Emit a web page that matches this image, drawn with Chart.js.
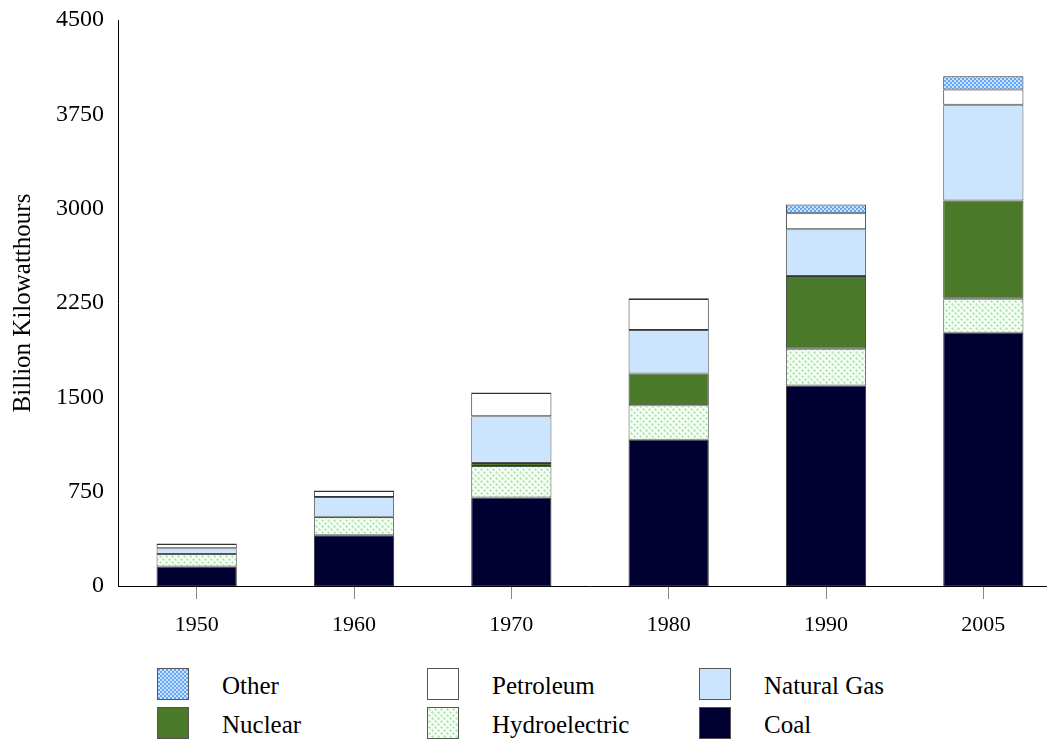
<!DOCTYPE html>
<html>
<head>
<meta charset="utf-8">
<script src="https://cdn.jsdelivr.net/npm/chart.js@4/dist/chart.umd.min.js"></script>
<style>
  html, body { margin: 0; padding: 0; background: #fff; overflow: hidden; }
  #wrap { position: relative; width: 1047px; height: 740px; overflow: hidden; }
  #box { position: absolute; left: 0; top: 0; width: 1062px; height: 650px; }
  .leg { position: absolute; font-family: "Liberation Serif", serif; font-size: 25px; color: #000; line-height: 1; }
  .sw { position: absolute; width: 32px; height: 32px; border: 1px solid #555; box-sizing: border-box; }
</style>
</head>
<body>
<div id="wrap">
  <div id="box"><canvas id="elecChart"></canvas></div>
  <div id="legend"></div>
</div>
<script>
// --- data (billion kWh) ---
const years = ["1950", "1960", "1970", "1980", "1990", "2005"];
const coal = [155, 403, 704, 1162, 1594, 2013];
const hydro = [100, 146, 251, 276, 293, 270];
const nuclear = [0, 1, 22, 251, 577, 782];
const naturalGas = [45, 158, 373, 346, 373, 761];
const petroleum = [34, 48, 184, 246, 127, 122];
const other = [4, 4, 5, 6, 70, 105];
const yTicks = [0, 750, 1500, 2250, 3000, 3750, 4500];

// fill patterns
function hydroPattern() {
  const c = document.createElement("canvas");
  c.width = 6; c.height = 6;
  const g = c.getContext("2d");
  g.fillStyle = "#f4fff4";
  g.fillRect(0, 0, 6, 6);
  g.fillStyle = "#b2f0b2";
  g.fillRect(1, 0, 1, 3);
  g.fillRect(0, 1, 3, 1);
  g.fillRect(4, 3, 1, 3);
  g.fillRect(3, 4, 3, 1);
  g.fillStyle = "#d6f8d6";
  g.fillRect(2, 2, 1, 1);
  g.fillRect(5, 5, 1, 1);
  return c;
}
function otherPattern() {
  const c = document.createElement("canvas");
  c.width = 4; c.height = 4;
  const g = c.getContext("2d");
  g.fillStyle = "#c8e2ff";
  g.fillRect(0, 0, 4, 4);
  g.fillStyle = "#62a6f6";
  g.fillRect(0, 0, 2, 2);
  g.fillRect(2, 2, 2, 2);
  return c;
}

const hydroCanvas = hydroPattern();
const otherCanvas = otherPattern();
const ctx = document.getElementById("elecChart").getContext("2d");
const hydroFill = ctx.createPattern(hydroCanvas, "repeat");
const otherFill = ctx.createPattern(otherCanvas, "repeat");

const series = [
  { label: "Coal", data: coal, fill: "#000033", css: "#000033", border: "#333" },
  { label: "Hydroelectric", data: hydro, fill: hydroFill, css: "url(" + hydroCanvas.toDataURL() + ")", border: "#555" },
  { label: "Nuclear", data: nuclear, fill: "#4a7a29", css: "#4a7a29", border: "#333" },
  { label: "Natural Gas", data: naturalGas, fill: "#cce5ff", css: "#cce5ff", border: "#555" },
  { label: "Petroleum", data: petroleum, fill: "#ffffff", css: "#ffffff", border: "#333" },
  { label: "Other", data: other, fill: otherFill, css: "url(" + otherCanvas.toDataURL() + ")", border: "#333" },
];

const serif = "'Liberation Serif', 'Times New Roman', serif";

new Chart(ctx, {
  type: "bar",
  data: {
    labels: years,
    datasets: series.map((s) => ({
      label: s.label,
      data: s.data,
      backgroundColor: s.fill,
      borderColor: s.border,
      borderWidth: 1,
      borderSkipped: false,
      barPercentage: 0.51,
      categoryPercentage: 1,
    })),
  },
  options: {
    responsive: true,
    maintainAspectRatio: false,
    animation: false,
    layout: { padding: { top: 20, right: 0, left: 0, bottom: 0 } },
    plugins: { legend: { display: false }, tooltip: { enabled: false } },
    scales: {
      x: {
        stacked: true,
        afterFit: (s) => { s.height = 64; s.paddingLeft = 0; s.paddingRight = 0; },
        grid: { display: true, drawOnChartArea: false, offset: false, tickLength: 13, color: "#888" },
        border: { display: true, color: "#000", width: 1 },
        ticks: { color: "#000", font: { family: serif, size: 22 }, padding: 13 },
      },
      y: {
        stacked: true,
        min: 0,
        max: 4500,
        afterFit: (s) => { s.width = 118; s.paddingTop = 0; s.paddingBottom = 0; },
        afterBuildTicks: (s) => { s.ticks = yTicks.map((v) => ({ value: v })); },
        grid: { display: false, drawTicks: false },
        border: { display: true, color: "#000", width: 1 },
        ticks: { color: "#000", font: { family: serif, size: 24 }, padding: 14, callback: (v) => String(v) },
        title: { display: true, text: "Billion Kilowatthours", color: "#000", font: { family: serif, size: 25 }, padding: { top: 8, bottom: 0 } },
      },
    },
  },
});

// legend laid out in a 3x2 grid like the original
const legendOrder = ["Other", "Petroleum", "Natural Gas", "Nuclear", "Hydroelectric", "Coal"];
const colX = [157, 427, 699];
const rowY = [668, 707];
const legend = document.getElementById("legend");
legendOrder.forEach((name, i) => {
  const s = series.find((d) => d.label === name);
  const col = i % 3, row = Math.floor(i / 3);
  const sw = document.createElement("div");
  sw.className = "sw";
  sw.style.left = colX[col] + "px";
  sw.style.top = rowY[row] + "px";
  sw.style.background = s.css;
  legend.appendChild(sw);
  const t = document.createElement("div");
  t.className = "leg";
  t.textContent = name;
  t.style.left = (colX[col] + 65) + "px";
  t.style.top = (rowY[row] + 5) + "px";
  legend.appendChild(t);
});
</script>
</body>
</html>
